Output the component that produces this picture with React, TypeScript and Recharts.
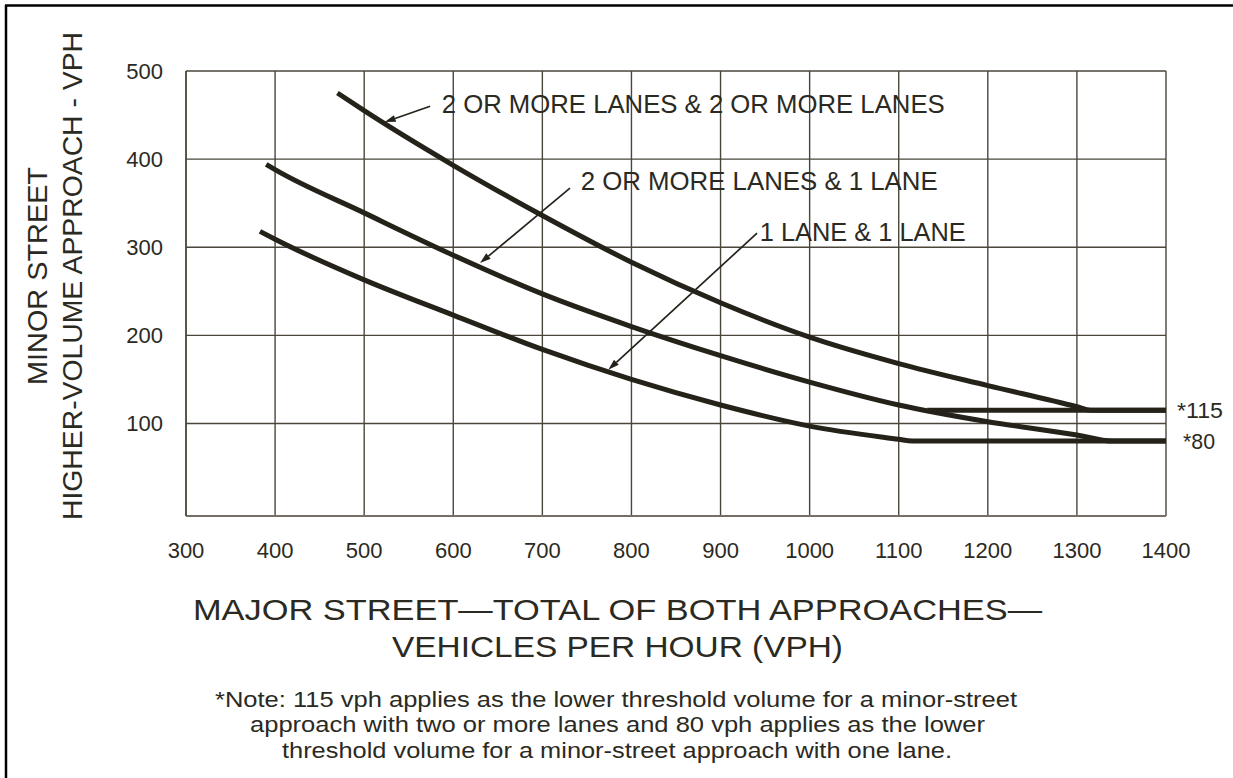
import React from "react";
import {
  LineChart,
  Line,
  XAxis,
  YAxis,
  CartesianGrid,
  ReferenceLine,
  ReferenceDot,
} from "recharts";

// axis ticks
const xTicks = [300, 400, 500, 600, 700, 800, 900, 1000, 1100, 1200, 1300, 1400];
const yTicks = [100, 200, 300, 400, 500];

// 2 or more lanes & 2 or more lanes (flattens at 115)
const twoPlusTwoPlus = [
  { major: 470, minor: 475 },
  { major: 500, minor: 455 },
  { major: 600, minor: 393 },
  { major: 700, minor: 336 },
  { major: 800, minor: 283 },
  { major: 900, minor: 237 },
  { major: 1000, minor: 198 },
  { major: 1100, minor: 168 },
  { major: 1200, minor: 143 },
  { major: 1300, minor: 119 },
  { major: 1315, minor: 115 },
  { major: 1400, minor: 115 },
];

// 2 or more lanes & 1 lane (flattens at 80)
const twoPlusOne = [
  { major: 390, minor: 394 },
  { major: 400, minor: 388 },
  { major: 500, minor: 339 },
  { major: 600, minor: 291 },
  { major: 700, minor: 247 },
  { major: 800, minor: 210 },
  { major: 900, minor: 177 },
  { major: 1000, minor: 147 },
  { major: 1100, minor: 121 },
  { major: 1200, minor: 102 },
  { major: 1300, minor: 87 },
  { major: 1340, minor: 80 },
  { major: 1400, minor: 80 },
];

// 1 lane & 1 lane (flattens at 80)
const oneOne = [
  { major: 383, minor: 318 },
  { major: 400, minor: 309 },
  { major: 500, minor: 263 },
  { major: 600, minor: 223 },
  { major: 700, minor: 184 },
  { major: 800, minor: 150 },
  { major: 900, minor: 121 },
  { major: 1000, minor: 97 },
  { major: 1100, minor: 82 },
  { major: 1115, minor: 80 },
  { major: 1400, minor: 80 },
];

// 115 vph floor branching off the middle curve
const floor115 = [
  { major: 1132, minor: 115 },
  { major: 1400, minor: 115 },
];

// leader arrows: tail -> head (on the curve)
const leaders = [
  { from: { x: 574, y: 460 }, to: { x: 523, y: 442 } },
  { from: { x: 731, y: 367 }, to: { x: 630, y: 282 } },
  { from: { x: 941, y: 316 }, to: { x: 774, y: 161 } },
];

const curveLabels = [
  { text: "2 OR MORE LANES & 2 OR MORE LANES", x: 587, y: 462.5, len: 503 },
  { text: "2 OR MORE LANES & 1 LANE", x: 743, y: 375, len: 357 },
  { text: "1 LANE & 1 LANE", x: 944, y: 317, len: 206 },
];

const thresholds = [
  { text: "*115", value: 115, dx: 11, len: 46 },
  { text: "*80", value: 80, dx: 17, len: 32 },
];

const FONT = '"Liberation Sans", Arial, Helvetica, sans-serif';
const INK = "#25221a";
const TEXT = "#2b2a22";

const Arrow = (props: any) => {
  const { x1, y1, x2, y2 } = props;
  const ang = Math.atan2(y2 - y1, x2 - x1);
  const len = 11;
  const half = 3.5;
  const bx = x2 - len * Math.cos(ang);
  const by = y2 - len * Math.sin(ang);
  const px = -Math.sin(ang) * half;
  const py = Math.cos(ang) * half;
  return (
    <g>
      <line x1={x1} y1={y1} x2={bx} y2={by} stroke={INK} strokeWidth={1.7} />
      <polygon
        points={`${x2},${y2} ${bx + px},${by + py} ${bx - px},${by - py}`}
        fill={INK}
      />
    </g>
  );
};

const textShape = (text: string, len: number, size: number, dx = 0) => (props: any) => (
  <text
    x={props.cx + dx}
    y={props.cy}
    dy="0.36em"
    fontSize={size}
    fontFamily={FONT}
    fill={TEXT}
    textLength={len}
    lengthAdjust="spacingAndGlyphs"
  >
    {text}
  </text>
);

const titleStyle = { fontFamily: FONT, fill: TEXT } as const;

export default function App() {
  return (
    <div style={{ position: "absolute", left: 0, top: 0, width: 1233, height: 778, background: "#fff" }}>
      <LineChart
        width={1233}
        height={778}
        margin={{ top: 71, right: 67, bottom: 222, left: 126 }}
      >
        <CartesianGrid stroke="#4a463b" strokeWidth={1.4} />
        <XAxis
          dataKey="major"
          type="number"
          domain={[300, 1400]}
          ticks={xTicks}
          allowDataOverflow
          height={40}
          tickSize={0}
          tickMargin={26}
          tickLine={false}
          axisLine={{ stroke: "#747066", strokeWidth: 2 }}
          tick={{ fontSize: 22, fontFamily: FONT, fill: TEXT }}
        />
        <YAxis
          dataKey="minor"
          type="number"
          domain={[-5, 500]}
          ticks={yTicks}
          allowDataOverflow
          width={60}
          tickSize={0}
          tickMargin={23}
          tickLine={false}
          axisLine={{ stroke: "#4a463b", strokeWidth: 1.4 }}
          tick={{ fontSize: 22, fontFamily: FONT, fill: TEXT }}
        />
        <Line data={twoPlusTwoPlus} dataKey="minor" type="monotone" stroke={INK} strokeWidth={5} dot={false} isAnimationActive={false} />
        <Line data={twoPlusOne} dataKey="minor" type="monotone" stroke={INK} strokeWidth={5} dot={false} isAnimationActive={false} />
        <Line data={oneOne} dataKey="minor" type="monotone" stroke={INK} strokeWidth={5} dot={false} isAnimationActive={false} />
        <Line data={floor115} dataKey="minor" type="linear" stroke={INK} strokeWidth={5} dot={false} isAnimationActive={false} />
        {leaders.map((l, i) => (
          <ReferenceLine key={`ld${i}`} segment={[l.from, l.to]} shape={Arrow} ifOverflow="visible" />
        ))}
        {curveLabels.map((c) => (
          <ReferenceDot
            key={c.text}
            x={c.x}
            y={c.y}
            r={0}
            ifOverflow="visible"
            shape={textShape(c.text, c.len, 25)}
          />
        ))}
        {thresholds.map((t) => (
          <ReferenceDot
            key={t.text}
            x={1400}
            y={t.value}
            r={0}
            ifOverflow="visible"
            shape={textShape(t.text, t.len, 22, t.dx)}
          />
        ))}
      </LineChart>
      <svg
        width={1233}
        height={778}
        style={{ position: "absolute", left: 0, top: 0, pointerEvents: "none" }}
      >
        <line x1={5} y1={5.5} x2={1233} y2={5.5} stroke="#000" strokeWidth={2.5} />
        <line x1={6} y1={5} x2={6} y2={778} stroke="#000" strokeWidth={2.5} />
        <g transform="rotate(-90, 47, 276)">
          <text x={47} y={276} textAnchor="middle" fontSize={28} textLength={218} lengthAdjust="spacingAndGlyphs" {...titleStyle}>
            MINOR STREET
          </text>
        </g>
        <g transform="rotate(-90, 82, 276)">
          <text x={82} y={276} textAnchor="middle" fontSize={28} textLength={488} lengthAdjust="spacingAndGlyphs" {...titleStyle}>
            HIGHER-VOLUME APPROACH - VPH
          </text>
        </g>
        <text x={617.5} y={620} textAnchor="middle" fontSize={30} textLength={849} lengthAdjust="spacingAndGlyphs" {...titleStyle}>
          MAJOR STREET—TOTAL OF BOTH APPROACHES—
        </text>
        <text x={617.5} y={657} textAnchor="middle" fontSize={30} textLength={451} lengthAdjust="spacingAndGlyphs" {...titleStyle}>
          VEHICLES PER HOUR (VPH)
        </text>
        <text x={616} y={707} textAnchor="middle" fontSize={22} textLength={802} lengthAdjust="spacingAndGlyphs" {...titleStyle}>
          *Note: 115 vph applies as the lower threshold volume for a minor-street
        </text>
        <text x={617.5} y={732} textAnchor="middle" fontSize={22} textLength={735} lengthAdjust="spacingAndGlyphs" {...titleStyle}>
          approach with two or more lanes and 80 vph applies as the lower
        </text>
        <text x={617} y={758} textAnchor="middle" fontSize={22} textLength={670} lengthAdjust="spacingAndGlyphs" {...titleStyle}>
          threshold volume for a minor-street approach with one lane.
        </text>
      </svg>
    </div>
  );
}
